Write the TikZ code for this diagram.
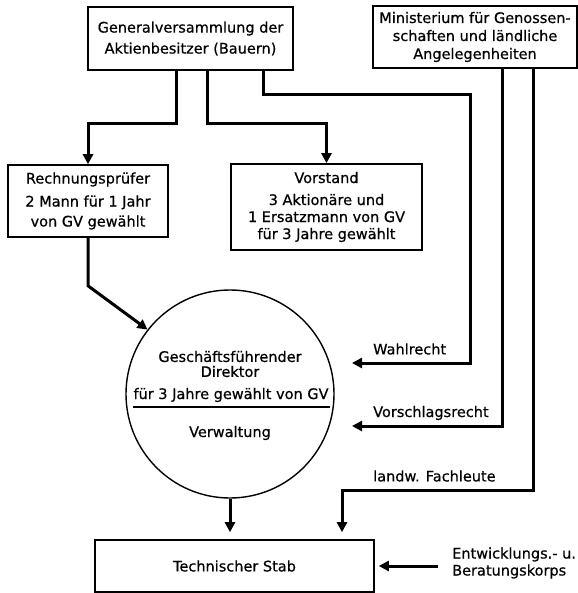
\documentclass[tikz,border=0pt]{standalone}
\usepackage{fontspec}
\setmainfont{DejaVu Sans}[FakeBold=0.6]
\usetikzlibrary{arrows.meta}
\begin{document}
\begin{tikzpicture}[x=1bp,y=-1bp,
  every node/.style={font=\fontsize{14.5bp}{17bp}\selectfont},
  box/.style={draw,line width=1.6bp,align=center,inner sep=0pt},
  conn/.style={line width=3bp,-{Triangle[length=10bp,width=10bp]}},
  lbl/.style={anchor=west,inner sep=0pt}]
\useasboundingbox (0,0) rectangle (578,593);

\node[box,minimum width=205bp,minimum height=63bp] (gv) at (190.5,38.5)
  {Generalversammlung der\\[4bp]Aktienbesitzer (Bauern)};
\node[box,minimum width=204bp,minimum height=62bp] (min) at (475,37)
  {Ministerium für Genossen-\\[1bp]schaften und ländliche\\[1bp]Angelegenheiten};
\node[box,minimum width=160bp,minimum height=72bp] (rp) at (88,201)
  {Rechnungsprüfer\\[6bp]2 Mann für 1 Jahr\\[3bp]von GV gewählt};
\node[box,minimum width=191bp,minimum height=86bp] (vs) at (326.5,207)
  {Vorstand\\[5bp]3 Aktionäre und\\1 Ersatzmann von GV\\für 3 Jahre gewählt};

\node[draw,circle,line width=1.4bp,minimum size=208bp,inner sep=0pt] (dir) at (230,394) {};
\node[align=center] (d1) at (230,364) {Geschäftsführender\\[-2bp]Direktor};
\node (d2) at (231,395) {für 3 Jahre gewählt von GV};
\draw[line width=1.5bp] (133,407) -- (330,407);
\node (d3) at (230,433) {Verwaltung};

\node[box,minimum width=279bp,minimum height=52bp] (ts) at (234.5,566) {Technischer Stab};

\node[lbl] (wl) at (373,349) {Wahlrecht};
\node[lbl] (vl) at (373,413) {Vorschlagsrecht};
\node[lbl] (fl) at (373,476) {landw. Fachleute};
\node[lbl,align=left] (ek) at (452,563) {Entwicklungs.- u.\\Beratungskorps};

\coordinate (wr) at (352,363);
\coordinate (vr) at (352,426);

\draw[conn] ([xshift=-14.5bp]gv.south) -- ++(0,53) -| (rp.north);
\draw[conn] ([xshift=16.5bp]gv.south) -- ++(0,53) -| (vs.north);
\draw[conn] ([xshift=72.5bp]gv.south) -- ++(0,24) -| (470,363) -- (wr);
\draw[conn] ([xshift=27bp]min.south) |- (vr);
\draw[conn,shorten >=7bp] ([xshift=58bp]min.south) -- ++(0,422) -| ([xshift=107.5bp]ts.north);
\draw[conn,shorten >=7bp] (dir.south) -- (dir.south |- ts.north);
\draw[conn] (rp.south) -- ++(0,48) -- (dir.142);
\draw[conn,shorten <=14bp,shorten >=4bp] (ek.west |- ts.east) -- (ts.east);
\end{tikzpicture}
\end{document}
